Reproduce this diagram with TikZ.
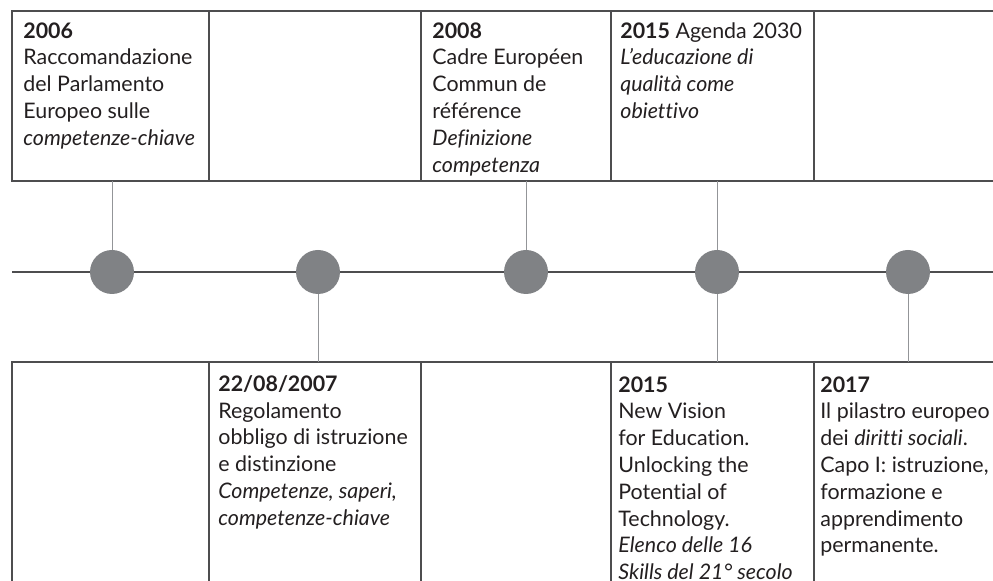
\documentclass[tikz,border=0pt]{standalone}
\usepackage{fontspec}
\setmainfont{Lato}[Ligatures=NoCommon]
\usetikzlibrary{positioning}
\definecolor{linegray}{HTML}{4D4D4F}
\definecolor{dotgray}{HTML}{808285}
\definecolor{stemgray}{HTML}{939598}
\definecolor{textgray}{HTML}{231F20}
\begin{document}
\begin{tikzpicture}[x=0.5pt, y=-0.5pt,
  box/.style={draw=linegray, line width=1pt, inner sep=0pt, outer sep=0pt, anchor=north west},
  entry/.style={anchor=north west, inner sep=0pt, align=left, text=textgray,
    font=\fontsize{10.7}{13.4}\selectfont},
  dot/.style={circle, fill=dotgray, minimum size=22pt, inner sep=0pt},
  stem/.style={draw=stemgray, line width=0.5pt},
  axis/.style={draw=linegray, line width=1pt}]
\useasboundingbox (0,0) rectangle (993,581);
% rows of boxes
\foreach \name/\x/\w in {a/12/197, b/209/212, c/421/190, d/611/203, e/814/220}{
  \node[box, minimum width=\w*0.5pt, minimum height=85pt] (top\name) at (\x,11) {};
  \node[box, minimum width=\w*0.5pt, minimum height=125pt] (bot\name) at (\x,362) {};
}
% timeline
\coordinate (tlstart) at (12,272);
\coordinate (tlend) at (1000,272);
\draw[axis] (tlstart) -- (tlend);
\foreach \name/\x in {d2006/112, d2007/318, d2008/526, d2015/717, d2017/908}
  \node[dot] (\name) at (\x,272) {};
% stems
\draw[stem] (d2006.north) -- (d2006 |- topa.south);
\draw[stem] (d2008.north) -- (d2008 |- topc.south);
\draw[stem] (d2015.north) -- (d2015 |- topd.south);
\draw[stem] (d2007.south) -- (d2007 |- botb.north);
\draw[stem] (d2015.south) -- (d2015 |- botd.north);
\draw[stem] (d2017.south) -- (d2017 |- bote.north);
% texts
\node[entry] (t2006) at ([xshift=5.5pt, yshift=-5.5pt]topa.north west)
  {\textbf{2006}\\Raccomandazione\\del Parlamento\\Europeo sulle\\\textit{competenze-chiave}};
\node[entry] (t2008) at ([xshift=5.5pt, yshift=-5.5pt]topc.north west)
  {\textbf{2008}\\Cadre Européen\\Commun de\\référence\\\textit{Definizione}\\\textit{competenza}};
\node[entry] (t2015a) at ([xshift=4.5pt, yshift=-5.5pt]topd.north west)
  {\textbf{2015} Agenda 2030\\\textit{L’educazione di}\\\textit{qualità come}\\\textit{obiettivo}};
\node[entry] (t2007) at ([xshift=4.5pt, yshift=-6.5pt]botb.north west)
  {\textbf{22/08/2007}\\Regolamento\\obbligo di istruzione\\e distinzione\\\textit{Competenze, saperi,}\\\textit{competenze-chiave}};
\node[entry] (t2015b) at ([xshift=3.5pt, yshift=-7pt]botd.north west)
  {\textbf{2015}\\New Vision\\for Education.\\Unlocking the\\Potential of\\Technology.\\\textit{Elenco delle 16}\\\textit{Skills del 21° secolo}};
\node[entry] (t2017) at ([xshift=3pt, yshift=-7pt]bote.north west)
  {\textbf{2017}\\Il pilastro europeo\\dei \textit{diritti sociali}.\\Capo I: istruzione,\\formazione e\\apprendimento\\permanente.};
\end{tikzpicture}
\end{document}
